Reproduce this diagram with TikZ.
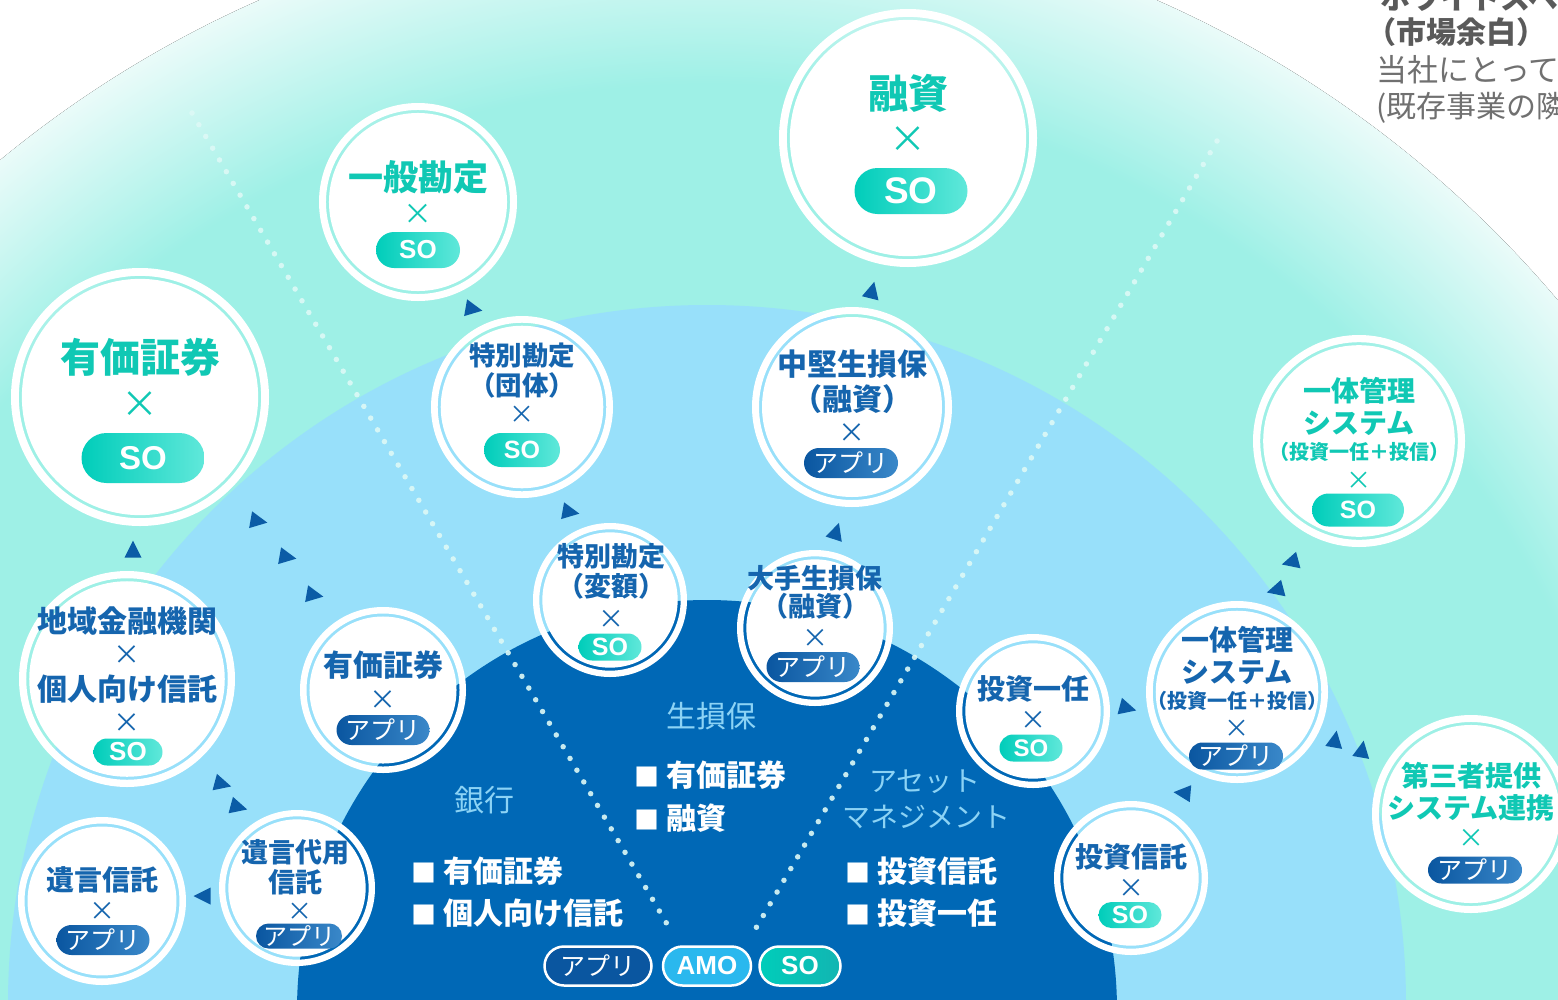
\documentclass[tikz,border=0pt]{standalone}
\usepackage{fontspec}
\setmainfont{Noto Sans CJK JP}
\newfontfamily\lat{Liberation Sans}
\usetikzlibrary{shapes.geometric,shapes.misc}
\definecolor{aq}{HTML}{9EF0E6}
\definecolor{aqedge}{HTML}{EAFBF9}
\definecolor{lb}{HTML}{98E0FA}
\definecolor{db}{HTML}{0068B6}
\definecolor{tealtxt}{HTML}{10C8B4}
\definecolor{bluetxt}{HTML}{1565AE}
\definecolor{soL}{HTML}{00CDBA}
\definecolor{soR}{HTML}{60E8DA}
\definecolor{apL}{HTML}{0A56A0}
\definecolor{apR}{HTML}{3A88C9}
\definecolor{amo}{HTML}{2AB8EE}
\definecolor{lbl}{HTML}{8CD3F5}
\definecolor{arr}{HTML}{0B5CA6}
\definecolor{dotc}{HTML}{DDF9F6}
\definecolor{gr}{HTML}{5A5A5A}
\definecolor{grl}{HTML}{707070}
\definecolor{soD}{HTML}{12B5B2}
\pgfdeclareradialshading{outerbg}{\pgfpoint{0bp}{0bp}}{color(0bp)=(aq);color(21bp)=(aq);color(25bp)=(aqedge);color(50bp)=(aqedge)}
\newcommand\fs[1]{\fontsize{#1}{#1}\selectfont}
\newcommand\bub[4]{%
  \pgfmathsetmacro\bt{0.03*#4+4}%
  \pgfmathsetmacro\bd{2*(#4-\bt-3)}%
  \pgfmathsetmacro\bmid{#4-\bt/2}%
  \node[circle, fill=white, inner sep=0pt, minimum size=\bd pt] (#1) at (#2,#3) {};
  \draw[white, line width=\bt pt] (#1.center) circle[radius=\bmid pt];
}
\newcommand\tx[6]{\node[inner sep=0pt, text=#5, font=\bfseries\fs{#4}] (#1) at (#2,#3) {#6};}
\newcommand\tm[5]{\node[inner sep=0pt, text=#5, font=\mdseries\fs{#4}] (#1) at (#2,#3) {×};}
\newcommand\so[6]{\node[sopill, minimum width=#4pt, minimum height=#5pt, font=\lat\bfseries\fs{#6}] (#1) at (#2,#3) {SO};}
\newcommand\ap[6]{\node[appill, minimum width=#4pt, minimum height=#5pt, font=\fs{#6}] (#1) at (#2,#3) {アプリ};}
\newcommand\tri[4]{\pic[rotate=#4] (#1) at (#2,#3) {atri};}
\newcommand\sq{{\fs{25}■}\hspace{7pt}}
\tikzset{
  sopill/.style={rounded rectangle, inner sep=0pt, left color=soL, right color=soR, text=white},
  appill/.style={rounded rectangle, inner sep=0pt, left color=apL, right color=apR, text=white},
  pics/atri/.style={code={\fill[arr] (9.5pt,0pt) -- (-7.5pt,8.5pt) -- (-7.5pt,-8.5pt) -- cycle;}},
  dots/.style={dotc, opacity=0.9, line width=5.5pt, line cap=round, dash pattern=on 0pt off 13.6pt},
  region/.style={inner sep=0pt, text=lbl, font=\mdseries\fs{30}},
  item/.style={inner sep=0pt, text=white, font=\bfseries\fs{30}, anchor=west},
}
\begin{document}
\begin{tikzpicture}[x=1pt,y=-1pt]
\useasboundingbox (0,0) rectangle (1558,999);
\fill[white] (0,0) rectangle (1558,999);
% background regions
\fill[shading=outerbg] (708,1019) circle[radius=1113pt];
\fill[lb] (707,1004) circle[radius=699pt];
\fill[db] (707,1010) circle[radius=410pt];
% dotted lines
\coordinate (da1) at (192,113); \coordinate (da2) at (667,924);
\coordinate (db1) at (1217,141); \coordinate (db2) at (756,928);
\draw[dots] (da1) -- (da2);
\draw[dots] (db1) -- (db2);
% region labels
\node[region] (bank) at (484,800) {銀行};
\node[item] (bank1) at (411,871) {\sq 有価証券};
\node[item] (bank2) at (411,913) {\sq 個人向け信託};
\node[region] (ins) at (711,716) {生損保};
\node[item] (ins1) at (634,775) {\sq 有価証券};
\node[item] (ins2) at (634,818) {\sq 融資};
\node[region, font=\mdseries\fs{28}] (am1) at (925,782) {アセット};
\node[region, font=\mdseries\fs{28}] (am2) at (926,817) {マネジメント};
\node[item] (am3) at (845,871) {\sq 投資信託};
\node[item] (am4) at (845,913) {\sq 投資一任};
% legend
\node[rounded rectangle, inner sep=0pt, fill=apL, draw=white, line width=2.5pt, text=white, minimum width=107pt, minimum height=39pt, font=\fs{25}] (lg1) at (598,966) {アプリ};
\node[rounded rectangle, inner sep=0pt, fill=amo, draw=white, line width=2.5pt, text=white, minimum width=88pt, minimum height=39pt, font=\lat\bfseries\fs{26}] (lg2) at (707,966) {AMO};
\node[rounded rectangle, inner sep=0pt, left color=soL, right color=soD, draw=white, line width=2.5pt, text=white, minimum width=81pt, minimum height=39pt, font=\lat\bfseries\fs{26}] (lg3) at (800,966) {SO};
% top-right text (cut by the page edge as in the reference)
\node[inner sep=0pt, anchor=west, text=gr, font=\bfseries\fs{30}] (w1) at (1380,-2) {ホワイトスペース};
\node[inner sep=0pt, anchor=west, text=gr, font=\bfseries\fs{30}] (w2) at (1366,32) {（市場余白）};
\node[inner sep=0pt, anchor=west, text=grl, font=\fs{31}] (w3) at (1376,70) {当社にとって};
\node[inner sep=0pt, anchor=west, text=grl, font=\fs{30}] (w4) at (1376,108) {(既存事業の隣};
% triangles
\tri{t1}{872}{291}{76}
\tri{t2}{473}{309}{-10}
\tri{t3}{133}{550}{90}
\tri{t4}{258}{521}{-10}
\tri{t5}{287}{557}{-10}
\tri{t6}{314}{595}{-10}
\tri{t7}{222}{784}{-15}
\tri{t8}{238}{807}{-15}
\tri{t9}{203}{896}{180}
\tri{t10}{570}{512}{-10}
\tri{t11}{836}{532}{72}
\tri{t12}{1127}{708}{-15}
\tri{t13}{1183}{793}{175}
\tri{t14}{1291}{562}{195}
\tri{t15}{1276}{590}{195}
\tri{t16}{1335}{740}{80}
\tri{t17}{1362}{750}{80}
% bubbles
\bub{b1}{140}{397}{129}
\bub{b2}{418}{202}{99}
\bub{b3}{908}{138}{129}
\bub{b4}{522}{407}{91}
\bub{b5}{852}{407}{100}
\bub{b6}{1359}{441}{106}
\bub{b7}{127}{679}{108}
\bub{b8}{383}{690}{83}
\bub{b9}{102}{901}{84}
\bub{b10}{297}{888}{78}
\bub{b11}{610}{600}{77}
\bub{b12}{815}{628}{78}
\bub{b13}{1033}{711}{77}
\bub{b14}{1237}{692}{91}
\bub{b15}{1131}{878}{77}
\bub{b16}{1471}{814}{99}
% bubble texts
\tx{b1a}{140}{357}{40}{tealtxt}{有価証券}
\tm{b1x}{140}{405}{37}{tealtxt}
\so{p1}{143}{458}{123}{50}{33}
\tx{b2a}{418}{177}{35}{tealtxt}{一般勘定}
\tm{b2x}{418}{214}{29}{tealtxt}
\so{p2}{418}{250}{84}{36}{26}
\tx{b3a}{908}{93}{40}{tealtxt}{融資}
\tm{b3x}{908}{140}{37}{tealtxt}
\so{p3}{911}{191}{113}{46}{37}
\tx{b4a}{522}{356}{26.5}{bluetxt}{特別勘定}
\tx{b4b}{522}{385}{26.5}{bluetxt}{（団体）}
\tm{b4x}{522}{415}{25}{bluetxt}
\so{p4}{522}{450}{76}{34}{25}
\tx{b5a}{852}{364}{30}{bluetxt}{中堅生損保}
\tx{b5b}{852}{399}{30}{bluetxt}{（融資）}
\tm{b5x}{852}{433}{27}{bluetxt}
\ap{p5}{851}{463}{94}{30}{25}
\tx{b6a}{1359}{391}{28}{tealtxt}{一体管理}
\tx{b6b}{1359}{423}{28}{tealtxt}{システム}
\tx{b6c}{1359}{452}{20}{tealtxt}{（投資一任＋投信）}
\tm{b6x}{1359}{481}{25}{tealtxt}
\so{p6}{1358}{510}{92}{33}{25}
\tx{b7a}{127}{621}{30}{bluetxt}{地域金融機関}
\tm{b7x}{127}{655}{27}{bluetxt}
\tx{b7b}{127}{689}{30}{bluetxt}{個人向け信託}
\tm{b7y}{127}{723}{27}{bluetxt}
\so{p7}{128}{752}{69}{27}{26}
\tx{b8a}{383}{665}{30}{bluetxt}{有価証券}
\tm{b8x}{383}{700}{27}{bluetxt}
\ap{p8}{383}{730}{93}{30}{25}
\tx{b9a}{102}{880}{28}{bluetxt}{遺言信託}
\tm{b9x}{102}{911}{26}{bluetxt}
\ap{p9}{103}{940}{93}{30}{25}
\tx{b10a}{295}{852}{27}{bluetxt}{遺言代用}
\tx{b10b}{295}{882}{27}{bluetxt}{信託}
\tm{b10x}{300}{912}{25}{bluetxt}
\ap{p10}{299}{936}{86}{25}{24}
\tx{b11a}{611}{556}{27}{bluetxt}{特別勘定}
\tx{b11b}{611}{586}{27}{bluetxt}{（変額）}
\tm{b11x}{611}{619}{26}{bluetxt}
\so{p11}{610}{647}{63}{27}{25}
\tx{b12a}{815}{578}{27}{bluetxt}{大手生損保}
\tx{b12b}{815}{606}{27}{bluetxt}{（融資）}
\tm{b12x}{815}{638}{26}{bluetxt}
\ap{p12}{813}{667}{93}{30}{25}
\tx{b13a}{1033}{689}{28}{bluetxt}{投資一任}
\tm{b13x}{1033}{720}{26}{bluetxt}
\so{p13}{1031}{748}{63}{27}{24}
\tx{b14a}{1237}{640}{28}{bluetxt}{一体管理}
\tx{b14b}{1237}{672}{28}{bluetxt}{システム}
\tx{b14c}{1237}{701}{20}{bluetxt}{（投資一任＋投信）}
\tm{b14x}{1237}{729}{25}{bluetxt}
\ap{p14}{1236}{756}{94}{27}{25}
\tx{b15a}{1131}{857}{28}{bluetxt}{投資信託}
\tm{b15x}{1131}{888}{26}{bluetxt}
\so{p15}{1130}{915}{63}{26}{25}
\tx{b16a}{1471}{776}{28}{tealtxt}{第三者提供}
\tx{b16b}{1471}{808}{28}{tealtxt}{システム連携}
\tm{b16x}{1471}{838}{26}{tealtxt}
\ap{p16}{1475}{870}{94}{27}{25}
\end{tikzpicture}
\end{document}
